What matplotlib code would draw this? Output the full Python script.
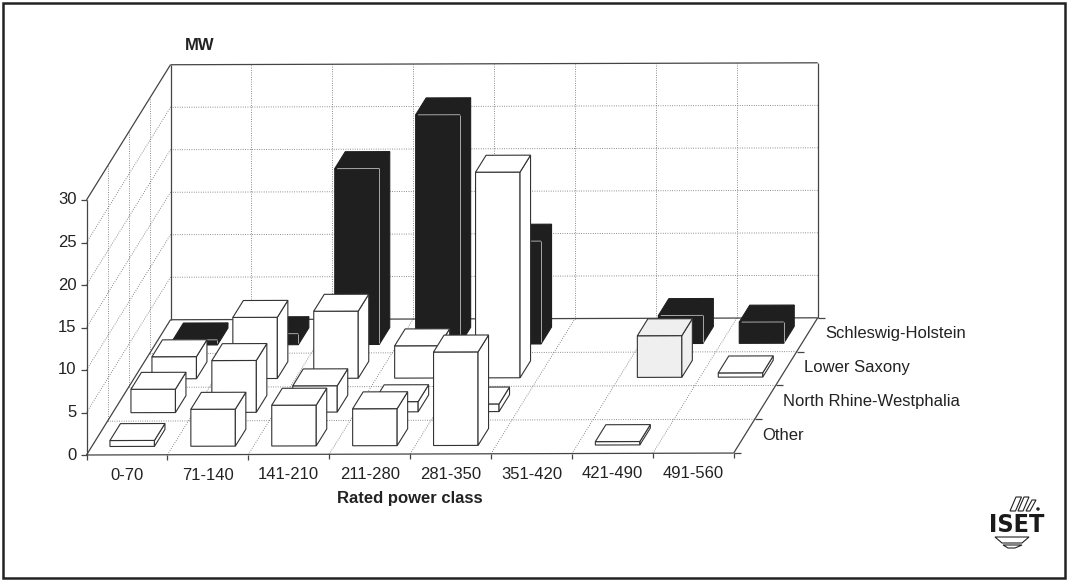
import matplotlib
matplotlib.use("Agg")
import matplotlib.pyplot as plt
from matplotlib.patches import Polygon, Rectangle, Ellipse

plt.rcParams['font.family'] = ['Liberation Sans', 'DejaVu Sans']

classes = ["0-70", "71-140", "141-210", "211-280", "281-350", "351-420", "421-490", "491-560"]
regions = ["Other", "North Rhine-Westphalia", "Lower Saxony", "Schleswig-Holstein"]
other = [0.7, 4.35, 4.8, 4.35, 11.0, 0, 0.4, 0]
north_rhine = [2.75, 6.1, 3.1, 1.2, 0.9, 0, 0, 0]
lower_saxony = [2.6, 7.2, 7.9, 3.8, 24.2, 0, 4.9, 0.5]
schleswig = [0.6, 1.3, 20.7, 27.0, 12.1, 0, 3.3, 2.5]
series = [other, north_rhine, lower_saxony, schleswig]
z_ticks = [0, 5, 10, 15, 20, 25, 30]

# oblique projection, in picture pixels
X0, Y0 = 86.5, 455.0
CAT_W = 80.9
ROW_DX, ROW_DY = 21.0, 33.75
Z_PX = 8.5
TILT = 0.003  # the scan is a little rotated


def proj(x, d, z):
    px = X0 + x * CAT_W + d * ROW_DX
    py = Y0 - d * ROW_DY - z * Z_PX - TILT * (px - X0)
    return px, py


fig = plt.figure(figsize=(10.67, 5.8), dpi=100)
ax = fig.add_axes([0, 0, 1, 1])
ax.set_xlim(0, 1067)
ax.set_ylim(580, 0)
ax.axis("off")

ax.add_patch(Rectangle((2.5, 3), 1062, 575, fill=False, ec="#222222", lw=1.8))

n_x = len(classes)
n_d = len(regions)
z_max = z_ticks[-1]
grid = dict(color="#666666", lw=0.6, ls=(0, (1, 1.8)), zorder=1)
frame = dict(color="#444444", lw=0.9, zorder=2)


def seg(p, q, **kw):
    ax.plot([p[0], q[0]], [p[1], q[1]], solid_capstyle="butt", **kw)


# walls and floor grid
for z in z_ticks[1:-1]:
    seg(proj(0, 0, z), proj(0, n_d, z), **grid)
    seg(proj(0, n_d, z), proj(n_x, n_d, z), **grid)
for i in range(1, n_x):
    seg(proj(i, n_d, 0), proj(i, n_d, z_max), **grid)
    seg(proj(i, 0, 0), proj(i, n_d, 0), **grid)
for d in range(1, n_d):
    seg(proj(0, d, 0), proj(0, d, z_max), **grid)
    seg(proj(0, d, 0), proj(n_x, d, 0), **grid)

# frame
seg(proj(0, 0, 0), proj(0, 0, z_max), **frame)
seg(proj(0, 0, z_max), proj(0, n_d, z_max), **frame)
seg(proj(0, n_d, 0), proj(0, n_d, z_max), **frame)
seg(proj(0, n_d, z_max), proj(n_x, n_d, z_max), **frame)
seg(proj(n_x, n_d, 0), proj(n_x, n_d, z_max), **frame)
seg(proj(0, 0, 0), proj(0, n_d, 0), **frame)
seg(proj(n_x, 0, 0), proj(n_x, n_d, 0), **frame)
seg(proj(0, 0, 0), proj(n_x, 0, 0), **frame)
seg(proj(0, n_d, 0), proj(n_x, n_d, 0), **frame)

# ticks
for z in z_ticks:
    p = proj(0, 0, z)
    seg((p[0] - 6, p[1]), p, **frame)
    ax.text(p[0] - 10, p[1], str(z), ha="right", va="center", fontsize=12, color="#222222")
for i in range(n_x + 1):
    p = proj(i, 0, 0)
    seg(p, (p[0], p[1] + 5), **frame)
for d in range(n_d + 1):
    p = proj(n_x, d, 0)
    seg(p, (p[0] + 7, p[1]), **frame)
for i, name in enumerate(classes):
    p = proj(i + 0.5, 0, 0)
    ax.text(p[0], p[1] + 20.5, name, ha="center", va="center", fontsize=12, color="#222222")
for d, name in enumerate(regions):
    p = proj(n_x, d + 0.5, 0)
    ax.text(p[0] + 18, p[1] - 1, name, ha="left", va="center", fontsize=12, color="#222222")

ax.text(200, 45, "MW", ha="center", va="center", fontsize=12, fontweight="bold", color="#222222")
ax.text(410, 499, "Rated power class", ha="center", va="center", fontsize=12, fontweight="bold", color="#222222")

# bars, back row first
BAR_W = 0.55
BAR_D = 0.5
zo = 3
for d in range(n_d - 1, -1, -1):
    dark = d == n_d - 1
    for i, v in enumerate(series[d]):
        if v <= 0:
            continue
        x1 = i + (1 - BAR_W) / 2
        x2 = x1 + BAR_W
        d1 = d + (1 - BAR_D) / 2
        d2 = d1 + BAR_D
        face = "#1f1f1f" if dark else "white"
        if regions[d] == "Lower Saxony" and classes[i] == "421-490":
            face = "#efefef"
        edge = "#1f1f1f" if dark else "#333333"
        polys = [
            [proj(x1, d1, 0), proj(x2, d1, 0), proj(x2, d1, v), proj(x1, d1, v)],
            [proj(x2, d1, 0), proj(x2, d2, 0), proj(x2, d2, v), proj(x2, d1, v)],
            [proj(x1, d1, v), proj(x2, d1, v), proj(x2, d2, v), proj(x1, d2, v)],
        ]
        for pts in polys:
            ax.add_patch(Polygon(pts, closed=True, fc=face, ec=edge, lw=0.8, zorder=zo))
        if dark:
            hi = dict(color="#a8a8a8", lw=0.7, zorder=zo + 0.5)
            seg(proj(x1 + 0.03, d1, v), proj(x2, d1, v), **hi)
            seg(proj(x2, d1, v), proj(x2, d1, 0.2), **hi)
        zo += 1

# ISET logo
zo += 1
ax.text(1017, 525, "ISET", ha="center", va="center", fontsize=18, fontweight="bold",
        family="DejaVu Sans", stretch="condensed", color="#1a1a1a", zorder=zo)
for lx, top, wd in ((1010, 497, 5.5), (1018, 497, 5), (1026, 500, 4)):
    ax.add_patch(Polygon([(lx, 511), (lx + wd, 511), (lx + wd + 6, top), (lx + 6, top)], closed=True,
                         fc="white", ec="#222222", lw=0.8, zorder=zo))
ax.add_patch(Ellipse((1038, 509), 3.5, 3.5, fc="#222222", ec="none", zorder=zo))
ax.add_patch(Polygon([(995, 537), (1029, 537), (1022, 543), (1002, 543)], closed=True,
                     fc="white", ec="#222222", lw=0.8, zorder=zo))
ax.add_patch(Polygon([(1003, 545), (1022, 545), (1015, 548), (1008, 548)], closed=True,
                     fc="white", ec="#222222", lw=0.8, zorder=zo))

fig.savefig("out.png", dpi=100)
